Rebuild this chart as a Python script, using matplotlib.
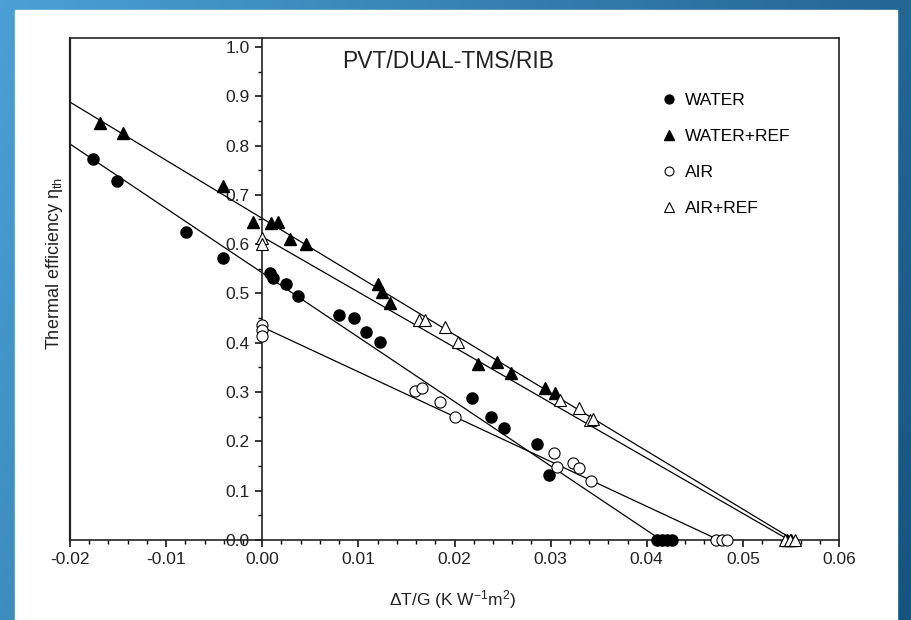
import numpy as np
import matplotlib.pyplot as plt
from matplotlib.patches import Rectangle
from matplotlib.colors import LinearSegmentedColormap
from matplotlib.ticker import MultipleLocator, FormatStrFormatter

plt.rcParams['font.family'] = ['Liberation Sans', 'DejaVu Sans']
plt.rcParams['mathtext.default'] = 'regular'
plt.rcParams['axes.unicode_minus'] = False

water_x = [-0.0176, -0.0151, -0.0079, -0.0041, 0.0008, 0.0011, 0.0025, 0.0037,
           0.0080, 0.0095, 0.0108, 0.0123, 0.0218, 0.0238, 0.0251, 0.0286,
           0.0298, 0.0411, 0.0416, 0.0421, 0.0426]
water_y = [0.773, 0.728, 0.625, 0.572, 0.542, 0.531, 0.519, 0.495,
           0.456, 0.450, 0.422, 0.402, 0.288, 0.249, 0.227, 0.195,
           0.132, 0.0, 0.0, 0.0, 0.0]

water_ref_x = [-0.0169, -0.0145, -0.0041, -0.0010, 0.0009, 0.0016, 0.0029, 0.0046,
               0.0120, 0.0125, 0.0133, 0.0224, 0.0244, 0.0259, 0.0294, 0.0305,
               0.0546, 0.0550]
water_ref_y = [0.846, 0.826, 0.718, 0.645, 0.643, 0.645, 0.611, 0.600,
               0.519, 0.503, 0.481, 0.357, 0.361, 0.339, 0.308, 0.298,
               0.0, 0.0]

air_x = [0.0, 0.0, 0.0, 0.0159, 0.0166, 0.0185, 0.0200, 0.0304, 0.0307,
         0.0323, 0.0329, 0.0342, 0.0472, 0.0478, 0.0484]
air_y = [0.436, 0.425, 0.414, 0.302, 0.308, 0.280, 0.250, 0.176, 0.148,
         0.156, 0.146, 0.120, 0.0, 0.0, 0.0]

air_ref_x = [0.0, 0.0, 0.0163, 0.0169, 0.0190, 0.0204, 0.0310, 0.0329,
             0.0341, 0.0344, 0.0544, 0.0549, 0.0554]
air_ref_y = [0.612, 0.600, 0.446, 0.446, 0.432, 0.402, 0.284, 0.268,
             0.243, 0.245, 0.0, 0.0, 0.0]

# fitted lines (end points)
water_fit_x = [-0.02, 0.0415]
water_fit_y = [0.803, 0.0]
water_ref_fit_x = [-0.02, 0.0553]
water_ref_fit_y = [0.888, 0.0]
air_fit_x = [0.0, 0.0475]
air_fit_y = [0.432, 0.0]
air_ref_fit_x = [0.0, 0.0548]
air_ref_fit_y = [0.615, 0.0]

fig = plt.figure(figsize=(9.12, 6.2), dpi=100)

# slide background: blue gradient with a white panel
bg = fig.add_axes([0, 0, 1, 1], zorder=-10)
gx, gy = np.meshgrid(np.linspace(0, 1, 300), np.linspace(0, 1, 200))
grad = 0.75 * gx + 0.25 * (1 - gy)
cmap = LinearSegmentedColormap.from_list('slide', ['#4aa0d4', '#17537f'])
bg.imshow(grad, cmap=cmap, extent=[0, 912, 0, 620], aspect='auto', origin='lower')
bg.add_patch(Rectangle((15, 0), 882, 610, color='white'))
bg.set_xlim(0, 912)
bg.set_ylim(0, 620)
bg.axis('off')

ax = fig.add_axes([70 / 912, 80 / 620, 769 / 912, 502 / 620])
ax.set_xlim(-0.02, 0.06)
ax.set_ylim(0, 1.018)

# fit lines
for fx, fy in [(water_fit_x, water_fit_y), (water_ref_fit_x, water_ref_fit_y),
               (air_fit_x, air_fit_y), (air_ref_fit_x, air_ref_fit_y)]:
    ax.plot(fx, fy, color='black', lw=0.9, zorder=2)

h1, = ax.plot(water_x, water_y, 'o', ls='none', color='black', ms=8,
              label='WATER', zorder=3, clip_on=False)
h2, = ax.plot(water_ref_x, water_ref_y, '^', ls='none', color='black', ms=9,
              label='WATER+REF', zorder=3, clip_on=False)
h3, = ax.plot(air_x, air_y, 'o', ls='none', mfc='white', mec='black', mew=0.8,
              ms=8, label='AIR', zorder=4, clip_on=False)
h4, = ax.plot(air_ref_x, air_ref_y, '^', ls='none', mfc='white', mec='black',
              mew=0.8, ms=9, label='AIR+REF', zorder=4, clip_on=False)

# y axis sits at x = 0, box stays closed
ax.spines['left'].set_position(('data', 0))
for s in ax.spines.values():
    s.set_linewidth(1.2)
    s.set_color('#222222')
ax.axvline(-0.02, color='#222222', lw=1.6, clip_on=False)

ax.xaxis.set_major_locator(MultipleLocator(0.01))
ax.xaxis.set_minor_locator(MultipleLocator(0.002))
ax.yaxis.set_major_locator(MultipleLocator(0.1))
ax.yaxis.set_minor_locator(MultipleLocator(0.05))
ax.xaxis.set_major_formatter(FormatStrFormatter('%.2f'))
ax.yaxis.set_major_formatter(FormatStrFormatter('%.1f'))
ax.tick_params(which='major', direction='out', length=5, width=1.1,
               labelsize=12.5, pad=4, labelcolor='#222222')
ax.tick_params(which='minor', direction='out', length=3, width=1.0)

ax.text(0.0193, 0.97, 'PVT/DUAL-TMS/RIB', fontsize=16.5, ha='center',
        va='center', color='#222222')

ax.set_xlabel('ΔT/G (K W$^{-1}$m$^{2}$)', fontsize=12.5, color='#222222')
ax.xaxis.set_label_coords(0.497, -0.095)
ax.set_ylabel('Thermal efficiency η$_{th}$', fontsize=13, color='#222222')
ax.yaxis.set_label_coords(-0.006, 0.55)

ax.legend(handles=[h1, h2, h3, h4], loc='upper left',
          bbox_to_anchor=(0.770, 0.890), frameon=False, fontsize=12.5,
          handlelength=0.8, handletextpad=0.5, borderpad=0, borderaxespad=0,
          labelspacing=1.2, markerscale=0.8)

fig.savefig('out.png', dpi=100)
